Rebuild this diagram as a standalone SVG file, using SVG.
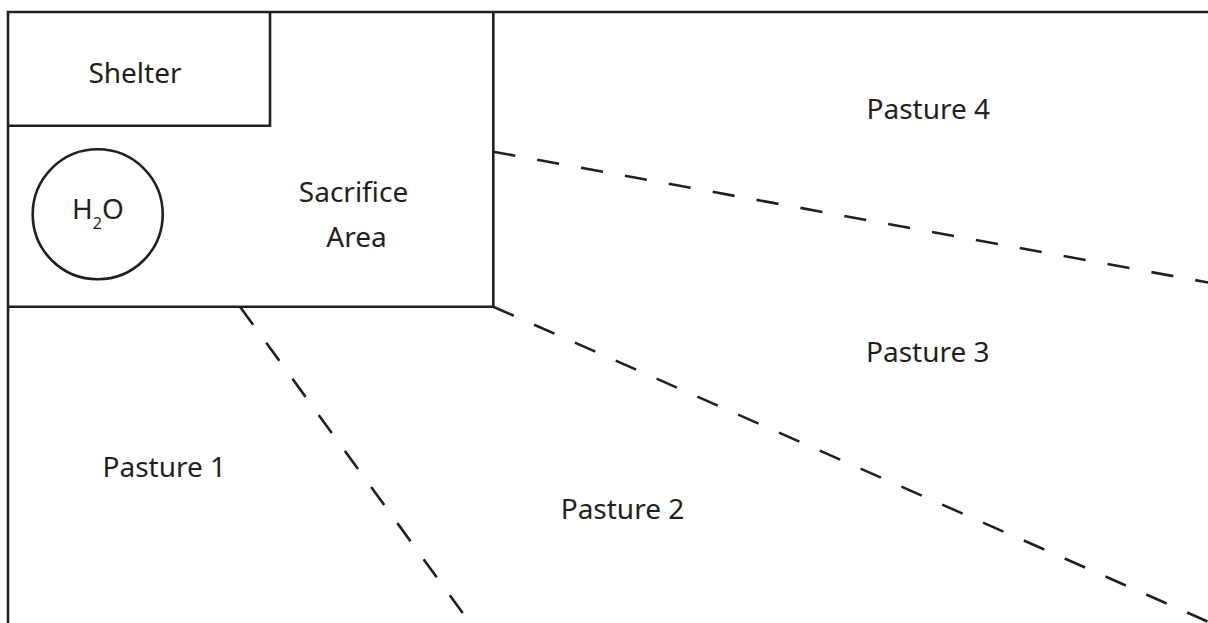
<svg xmlns="http://www.w3.org/2000/svg" width="1208" height="623" viewBox="0 0 1208 623">
<style>
.wall{fill:none;stroke:#231f20;stroke-width:2.6;stroke-linecap:butt;stroke-linejoin:miter}
.fence{fill:none;stroke:#231f20;stroke-width:2.6;stroke-dasharray:22.3 22.3}
.lbl{font-family:"Noto Sans","Liberation Sans",sans-serif;font-size:28px;fill:#231f20;text-anchor:middle}
</style>
<rect width="1208" height="623" fill="#ffffff"/>
<g id="boundary">
<path class="wall" d="M8,623 V12 H1208"/>
</g>
<g id="sacrifice-area">
<path class="wall" d="M493.3,12 V306.7 H8"/>
<text class="lbl" x="353.5" y="201.5">Sacrifice</text>
<text class="lbl" x="356.5" y="246.5">Area</text>
</g>
<g id="shelter">
<path class="wall" d="M8,125.7 H270 V12"/>
<text class="lbl" x="135" y="83.3">Shelter</text>
</g>
<g id="water">
<circle class="wall" cx="97.7" cy="214.3" r="65"/>
<text class="lbl" x="98" y="219.3">H<tspan font-size="16" dy="10">2</tspan><tspan dy="-10">O</tspan></text>
</g>
<g id="connectors">
<line class="fence" x1="493.3" y1="151.7" x2="1212" y2="283.2"/>
<line class="fence" x1="493.3" y1="306.7" x2="1212" y2="623.5"/>
<line class="fence" x1="240" y1="306.7" x2="462.7" y2="613"/>
</g>
<g id="pasture-1"><text class="lbl" x="164.3" y="476.7">Pasture 1</text></g>
<g id="pasture-2"><text class="lbl" x="622.5" y="519.3">Pasture 2</text></g>
<g id="pasture-3"><text class="lbl" x="927.8" y="361.7">Pasture 3</text></g>
<g id="pasture-4"><text class="lbl" x="928.3" y="119">Pasture 4</text></g>
</svg>
